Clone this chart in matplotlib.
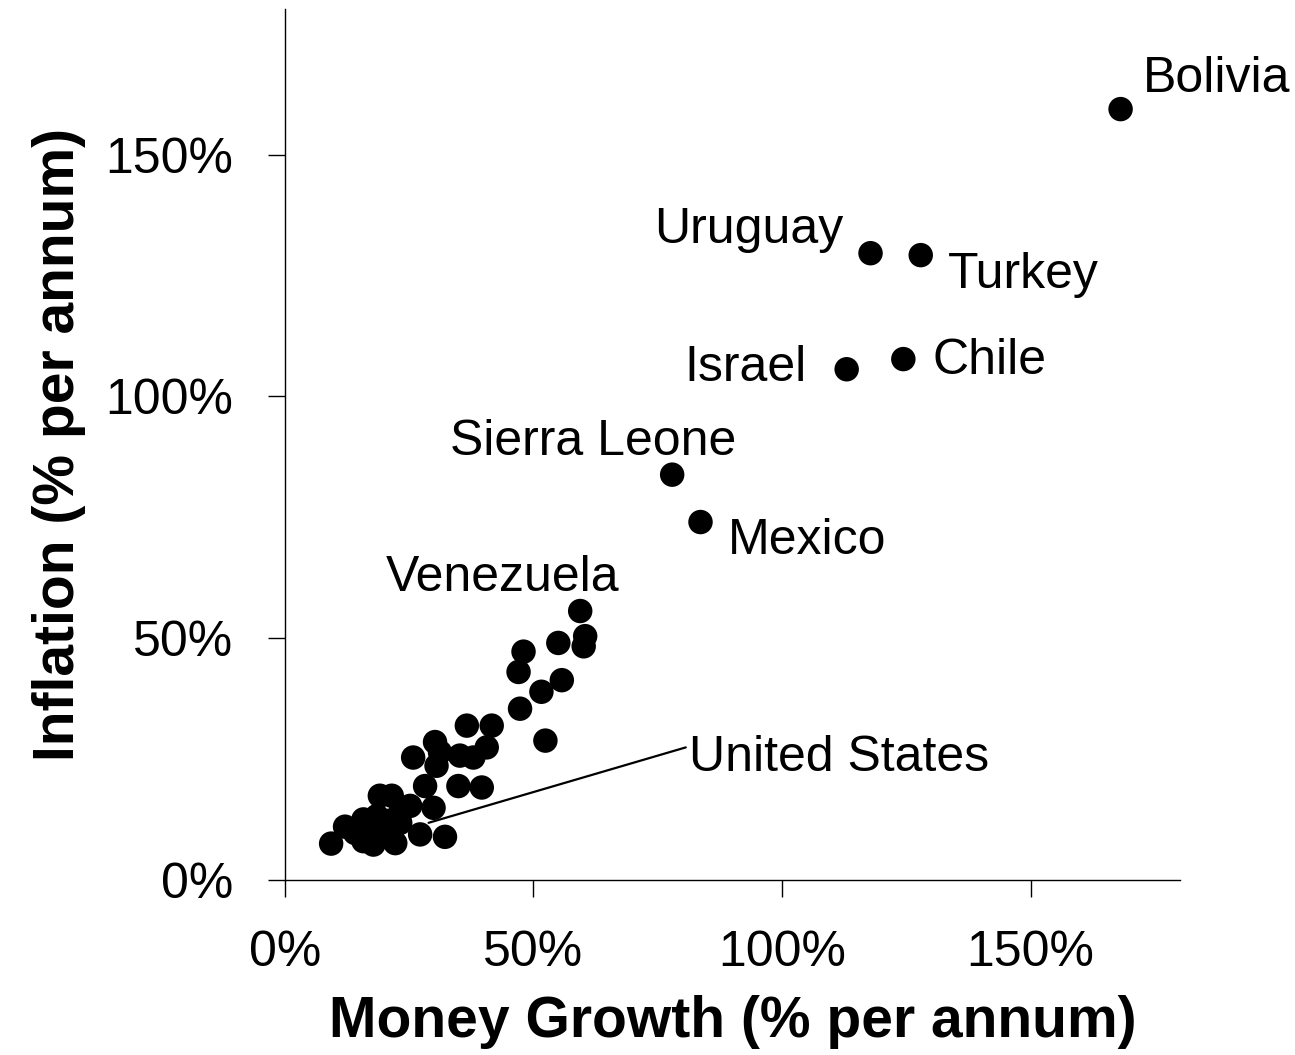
import matplotlib
matplotlib.use("Agg")
import matplotlib.pyplot as plt
from matplotlib.ticker import FuncFormatter

plt.rcParams["font.family"] = ["Liberation Sans", "DejaVu Sans"]

# money growth (% p.a.) and inflation (% p.a.) per country
named_countries = ["Bolivia", "Uruguay", "Turkey", "Israel", "Chile",
                   "Sierra Leone", "Mexico"]
named_growth = [168.1, 117.8, 127.9, 113.0, 124.4, 77.9, 83.6]
named_inflation = [159.4, 129.6, 129.2, 105.6, 107.7, 83.8, 74.0]

cluster_growth = [59.4, 55.0, 60.4, 60.1, 48.0, 47.0, 55.7, 51.6, 47.3, 52.4,
                  41.6, 36.6, 40.6, 37.9, 35.2, 31.2, 30.5, 30.2, 25.8,
                  39.6, 34.9, 28.2, 29.9, 25.2, 23.2, 20.8, 18.5, 15.8,
                  21.5, 19.1, 32.2, 27.2, 22.2, 17.8, 15.8, 12.1, 9.3,
                  18.5, 14.1, 23.2]
cluster_inflation = [55.6, 49.0, 50.4, 48.3, 47.2, 43.0, 41.3, 38.9, 35.4, 28.8,
                     31.9, 31.9, 27.4, 25.3, 25.7, 26.4, 23.6, 28.5, 25.3,
                     19.1, 19.4, 19.4, 14.9, 15.3, 13.9, 12.2, 13.2, 12.5,
                     17.4, 17.4, 8.9, 9.4, 7.6, 7.3, 8.0, 11.0, 7.5,
                     9.7, 9.7, 11.8]

# label anchors (text baseline), alignment
label_x = [172.6, 112.4, 133.3, 104.9, 130.3, 62.1, 89.2, 43.8]
label_y = [162.9, 131.7, 122.5, 103.1, 104.6, 87.9, 67.3, 59.8]
label_text = named_countries + ["Venezuela"]
label_ha = ["left", "right", "left", "right", "left", "center", "left", "center"]

us_point = (28.9, 11.8)
us_label = (81.2, 22.5)

fig = plt.figure(figsize=(12.95, 10.55), dpi=100)
ax = fig.add_axes([0.220, 0.166, 0.691, 0.825])

ax.scatter(cluster_growth, cluster_inflation, s=310, color="black",
           edgecolors="none", zorder=3)
ax.scatter(named_growth, named_inflation, s=310, color="black",
           edgecolors="none", zorder=3)

for x, y, t, ha in zip(label_x, label_y, label_text, label_ha):
    ax.text(x, y, t, ha=ha, va="baseline", fontsize=36, clip_on=False)

ax.annotate("United States", xy=us_point, xytext=us_label,
            fontsize=36, ha="left", va="baseline",
            arrowprops=dict(arrowstyle="-", color="black", lw=1.6,
                            shrinkA=0, shrinkB=0,
                            relpos=(0.0, 0.75)))

ax.set_xlim(0, 180)
ax.set_ylim(0, 180)
ax.set_xticks([0, 50, 100, 150])
ax.set_yticks([0, 50, 100, 150])
pct = FuncFormatter(lambda v, _: f"{v:.0f}%")
ax.xaxis.set_major_formatter(pct)
ax.yaxis.set_major_formatter(pct)
ax.tick_params(axis="both", direction="out", length=12, width=1,
               labelsize=36)
ax.tick_params(axis="x", pad=24)
ax.tick_params(axis="y", pad=25)

for side in ["top", "right"]:
    ax.spines[side].set_visible(False)
for side in ["left", "bottom"]:
    ax.spines[side].set_linewidth(1)

ax.set_xlabel("Money Growth (% per annum)", fontsize=41, fontweight="bold",
              labelpad=14)
ax.set_ylabel("Inflation (% per annum)", fontsize=41, fontweight="bold",
              labelpad=14)

fig.savefig("out.png", dpi=100)
